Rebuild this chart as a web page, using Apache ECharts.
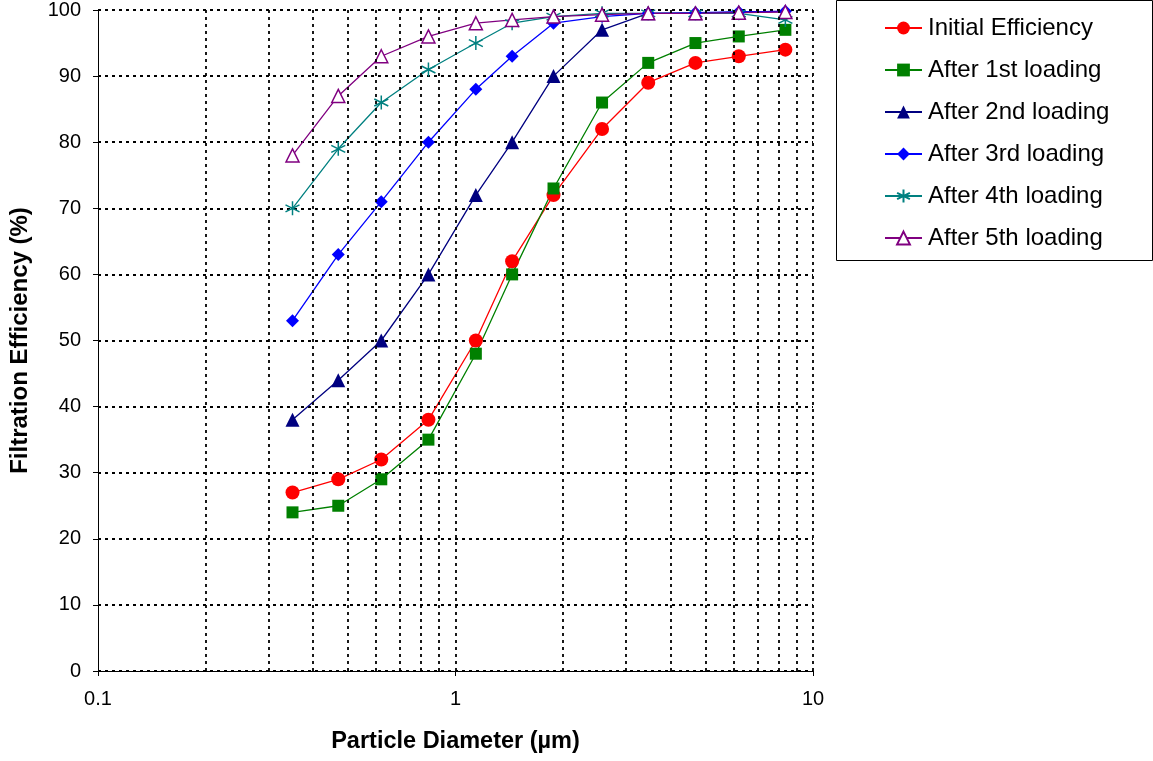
<!DOCTYPE html>
<html>
<head>
<meta charset="utf-8">
<script src="https://cdn.jsdelivr.net/npm/echarts@6/dist/echarts.min.js"></script>
<style>
html,body{margin:0;padding:0;background:#fff;}
#chart{width:1153px;height:761px;}
</style>
</head>
<body>
<div id="chart"></div>
<script>
// particle diameters (µm)
var diameters = [0.35, 0.47, 0.62, 0.84, 1.14, 1.44, 1.88, 2.57, 3.46, 4.69, 6.20, 8.37];
var initialEff = [27, 29, 32, 38, 50, 62, 72, 82, 89, 92, 93, 94];
var after1st  = [24, 25, 29, 35, 48, 60, 73, 86, 92, 95, 96, 97];
var after2nd  = [38, 44, 50, 60, 72, 80, 90, 97, 99.5, 99.5, 99.7, 99.8];
var after3rd  = [53, 63, 71, 80, 88, 93, 98, 99, 99.5, 99.6, 99.7, 99.8];
var after4th  = [70, 79, 86, 91, 95, 98, 99, 99.5, 99.5, 99.5, 99.5, 98.5];
var after5th  = [78, 87, 93, 96, 98, 98.5, 99, 99.3, 99.5, 99.5, 99.6, 99.7];
var seriesNames = ['Initial Efficiency', 'After 1st loading', 'After 2nd loading', 'After 3rd loading', 'After 4th loading', 'After 5th loading'];
var xGridValues = [0.2, 0.3, 0.4, 0.5, 0.6, 0.7, 0.8, 0.9, 1, 2, 3, 4, 5, 6, 7, 8, 9, 10];

function pairs(ys){ return diameters.map(function(x,i){ return [x, ys[i]]; }); }

var FONT = '"Liberation Sans", Arial, sans-serif';
var starPath = 'path://M10,0L10,20M1.34,5L18.66,15M1.34,15L18.66,5';

function mk(name, data, color, symbol, size, fill){
  return {
    name: name, type: 'line', data: pairs(data), z: 3,
    symbol: symbol, symbolSize: size,
    lineStyle: { color: color, width: 1.3 },
    itemStyle: { color: fill || color, borderColor: color, borderWidth: (fill || symbol === starPath) ? 1.5 : 0 },
    emphasis: { disabled: true },
    animation: false
  };
}

var chart = echarts.init(document.getElementById('chart'), null, { renderer: 'canvas' });
chart.setOption({
  backgroundColor: '#fff',
  animation: false,
  textStyle: { fontFamily: FONT, color: '#000' },
  grid: { left: 98, top: 10, right: 340, bottom: 90, containLabel: false },
  graphic: [{
    type: 'rect', left: 836, top: 0, z: 0,
    shape: { width: 316, height: 260 },
    style: { fill: '#fff', stroke: '#000', lineWidth: 1 }
  }],
  legend: {
    orient: 'vertical', left: 884, top: 16, z: 10, padding: 0,
    data: seriesNames,
    itemWidth: 37, itemHeight: 16, itemGap: 18,
    textStyle: { fontFamily: FONT, fontSize: 24, color: '#000', lineHeight: 24, padding: [0,0,0,1] },
    selectedMode: false
  },
  xAxis: {
    type: 'log', logBase: 10, min: 0.1, max: 10,
    name: 'Particle Diameter (µm)', nameLocation: 'middle', nameGap: 59,
    nameTextStyle: { fontFamily: FONT, fontSize: 23.5, fontWeight: 'bold', color: '#000' },
    axisLine: { lineStyle: { color: '#000', width: 1 } },
    axisTick: { show: true, length: 5, lineStyle: { color: '#000' } },
    axisLabel: { fontFamily: FONT, fontSize: 20, color: '#000', margin: 18,
      formatter: function(v){ return v < 1 ? v.toFixed(1) : String(Math.round(v)); } },
    splitLine: { show: false },
    minorTick: { show: false }
  },
  yAxis: {
    type: 'value', min: 0, max: 100, interval: 10,
    name: 'Filtration Efficiency (%)', nameLocation: 'middle', nameGap: 66, nameRotate: 90,
    nameTextStyle: { fontFamily: FONT, fontSize: 24, fontWeight: 'bold', color: '#000' },
    axisLine: { show: true, lineStyle: { color: '#000', width: 1 } },
    axisTick: { show: true, length: 5, lineStyle: { color: '#000' } },
    axisLabel: { fontFamily: FONT, fontSize: 20, color: '#000', margin: 17 },
    splitLine: { show: true, lineStyle: { color: '#000', width: 1.8, type: [3, 4] } }
  },
  series: [
    {
      name: 'grid', type: 'line', data: [], z: 1, silent: true,
      markLine: {
        silent: true, symbol: ['none', 'none'], animation: false,
        label: { show: false },
        lineStyle: { color: '#000', width: 1.8, type: [3, 4] },
        data: xGridValues.map(function(v){ return { xAxis: v }; })
      }
    },
    mk(seriesNames[0], initialEff, '#FF0000', 'circle', 14),
    mk(seriesNames[1], after1st, '#008000', 'rect', 12),
    mk(seriesNames[2], after2nd, '#000080', 'triangle', 14),
    mk(seriesNames[3], after3rd, '#0000FF', 'diamond', 13),
    mk(seriesNames[4], after4th, '#008080', starPath, 14),
    mk(seriesNames[5], after5th, '#800080', 'triangle', 13, '#ffffff')
  ]
});
</script>
</body>
</html>
